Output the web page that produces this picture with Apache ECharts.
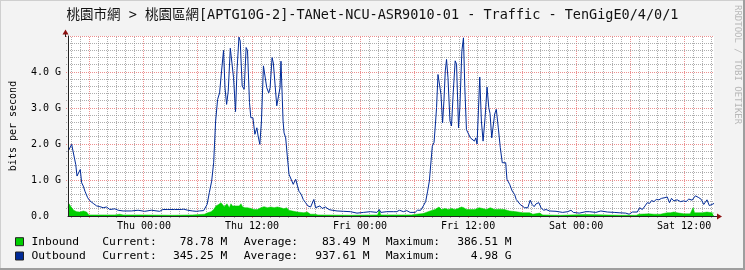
<!DOCTYPE html>
<html>
<head>
<meta charset="utf-8">
<script src="https://cdn.jsdelivr.net/npm/echarts@6/dist/echarts.min.js"></script>
<style>
html,body{margin:0;padding:0;background:#f3f3f3;}
#c{width:745px;height:270px;}
</style>
</head>
<body>
<div id="c"></div>
<script>
// ---------- data (hours relative to Thu 00:00, values in Gbit/s) ----------
const titleText = '桃園市網 > 桃園區網[APTG10G-2]-TANet-NCU-ASR9010-01 - Traffic - TenGigE0/4/0/1';
const yAxisTitle = 'bits per second';
const xRange = [-8.44, 63.32];
const yMax = 5.0;
const xTickHours = [0, 12, 24, 36, 48, 60];
const xTickLabels = ['Thu 00:00', 'Thu 12:00', 'Fri 00:00', 'Fri 12:00', 'Sat 00:00', 'Sat 12:00'];
const yTickLabels = ['0.0', '1.0 G', '2.0 G', '3.0 G', '4.0 G'];
const seriesNames = ['Inbound', 'Outbound'];
const statLabels = ['Current:', 'Average:', 'Maximum:'];
const inboundStats = ['78.78 M', '83.49 M', '386.51 M'];
const outboundStats = ['345.25 M', '937.61 M', '4.98 G'];

const outboundHours = [-8.44,-8.33,-8.03,-7.88,-7.58,-7.44,-7.22,-7.08,-6.92,-6.74,-6.56,-6.41,-6.26,-6.00,-5.64,-5.26,-4.90,-4.53,-4.16,-3.79,-3.24,-2.87,-2.32,-1.39,-0.66,0.08,0.82,1.74,2.10,2.65,3.39,4.13,4.42,4.86,5.42,5.79,6.16,6.63,7.01,7.26,7.52,7.74,7.96,8.18,8.40,8.62,8.84,9.00,9.18,9.36,9.59,9.73,9.95,10.17,10.33,10.55,10.69,10.91,11.13,11.35,11.50,11.72,11.87,12.10,12.32,12.54,12.68,12.87,13.05,13.27,13.42,13.64,13.86,14.01,14.23,14.37,14.53,14.75,14.89,15.11,15.22,15.45,15.56,15.74,15.92,16.11,16.30,16.58,16.85,17.03,17.21,17.47,17.69,17.95,18.21,18.51,18.68,18.87,19.06,19.24,19.54,19.79,20.17,20.53,20.90,21.45,22.19,22.93,23.66,24.40,25.14,25.87,26.14,26.31,26.98,27.72,28.08,28.38,28.82,29.19,29.56,30.12,30.37,30.74,31.03,31.29,31.51,31.70,31.89,32.03,32.22,32.36,32.50,32.66,32.80,32.99,33.17,33.32,33.47,33.61,33.77,33.99,34.16,34.35,34.57,34.72,34.94,35.09,35.31,35.49,35.64,35.82,36.04,36.26,36.48,36.71,36.86,37.00,37.15,37.30,37.48,37.67,37.89,38.11,38.30,38.44,38.63,38.77,38.96,39.14,39.36,39.58,39.80,40.02,40.18,40.32,40.62,40.91,41.17,41.35,41.57,41.79,42.01,42.28,42.64,42.90,43.12,43.34,43.56,43.86,44.11,44.38,44.67,45.04,45.77,46.51,47.07,47.43,47.70,48.36,49.09,49.46,50.19,50.75,51.49,52.23,52.78,53.51,53.89,54.25,54.80,55.06,55.36,55.66,55.91,56.17,56.39,56.65,56.91,57.20,57.49,57.87,58.12,58.38,58.60,58.86,59.23,59.59,59.97,60.22,60.52,60.89,61.25,61.63,61.91,62.18,62.54,62.80,63.10,63.32];
const outboundGbps = [1.79,1.79,1.99,1.80,1.43,1.11,1.11,1.29,0.92,0.83,0.69,0.74,0.51,0.42,0.35,0.28,0.26,0.23,0.25,0.18,0.20,0.16,0.14,0.14,0.16,0.13,0.16,0.13,0.18,0.18,0.18,0.18,0.19,0.16,0.14,0.13,0.14,0.15,0.32,0.65,0.97,1.48,2.64,3.24,3.42,4.03,4.60,3.56,3.10,3.47,4.66,4.66,3.84,2.90,4.03,4.97,4.86,3.61,3.52,4.68,4.60,3.15,2.73,2.73,2.27,2.45,2.22,1.99,2.64,4.17,4.20,3.56,3.42,3.56,4.40,4.25,3.75,3.06,3.06,3.56,4.30,2.64,2.31,2.17,1.67,1.16,1.12,0.88,1.02,0.97,0.69,0.60,0.46,0.37,0.28,0.25,0.28,0.46,0.23,0.18,0.28,0.21,0.25,0.18,0.16,0.14,0.13,0.12,0.08,0.10,0.12,0.10,0.18,0.10,0.12,0.12,0.12,0.16,0.12,0.15,0.10,0.10,0.16,0.16,0.28,0.40,0.69,0.97,1.53,1.94,2.04,2.50,3.01,3.93,3.93,3.38,2.59,3.19,4.03,4.35,3.84,2.64,2.50,3.42,4.31,4.22,2.45,3.01,4.58,4.95,3.56,2.40,2.36,2.17,2.13,2.08,2.17,2.00,2.92,3.86,2.64,2.08,2.73,3.58,3.01,2.85,2.17,2.17,2.84,2.96,2.45,1.90,1.48,1.48,1.48,1.02,0.88,0.69,0.60,0.46,0.51,0.32,0.32,0.23,0.23,0.44,0.32,0.26,0.34,0.37,0.23,0.16,0.18,0.14,0.13,0.10,0.12,0.16,0.10,0.08,0.12,0.12,0.10,0.14,0.11,0.10,0.09,0.08,0.05,0.11,0.11,0.23,0.18,0.28,0.37,0.35,0.43,0.40,0.46,0.45,0.49,0.51,0.53,0.37,0.49,0.42,0.45,0.40,0.42,0.40,0.47,0.44,0.56,0.51,0.46,0.32,0.45,0.29,0.32,0.35];

const inboundHours = [-8.44,-8.33,-8.18,-8.03,-7.81,-7.47,-7.11,-6.74,-6.56,-6.37,-6.12,-5.09,-3.24,-2.68,-2.50,-2.32,-0.14,3.17,5.39,6.71,7.08,7.45,7.74,8.00,8.29,8.56,8.73,8.92,9.22,9.48,9.66,9.84,10.11,10.33,10.58,10.77,10.95,11.21,11.50,11.87,12.24,12.60,12.98,13.34,13.71,14.09,14.45,14.82,15.19,15.56,15.85,16.08,16.30,17.03,17.77,18.13,18.32,18.51,19.06,19.31,23.07,25.95,26.14,26.31,28.60,29.71,30.29,31.03,31.78,32.33,32.77,33.06,33.43,33.80,34.16,34.54,34.90,35.27,35.53,35.82,36.26,36.75,37.23,37.59,38.03,38.47,38.96,39.51,40.02,40.62,41.35,42.09,42.83,43.20,43.94,44.30,46.29,49.06,49.28,52.93,54.69,54.99,56.10,56.28,56.65,57.35,58.12,58.49,58.86,59.23,59.97,60.67,61.00,61.16,61.63,62.00,62.54,63.10,63.32];
const inboundGbps = [0.23,0.34,0.31,0.23,0.16,0.12,0.11,0.14,0.17,0.11,0.03,0.03,0.03,0.05,0.09,0.03,0.03,0.02,0.03,0.05,0.09,0.12,0.18,0.28,0.32,0.37,0.32,0.26,0.34,0.23,0.34,0.28,0.28,0.31,0.28,0.34,0.26,0.23,0.23,0.21,0.18,0.18,0.23,0.26,0.23,0.25,0.23,0.25,0.23,0.20,0.23,0.16,0.12,0.11,0.09,0.11,0.14,0.05,0.05,0.03,0.02,0.03,0.16,0.03,0.03,0.03,0.05,0.07,0.14,0.18,0.25,0.18,0.21,0.18,0.21,0.18,0.21,0.25,0.23,0.18,0.18,0.18,0.23,0.21,0.18,0.23,0.18,0.19,0.18,0.14,0.12,0.09,0.09,0.05,0.08,0.03,0.02,0.04,0.02,0.02,0.02,0.05,0.06,0.08,0.05,0.05,0.09,0.09,0.11,0.09,0.06,0.06,0.23,0.09,0.09,0.09,0.11,0.09,0.08];

// ---------- build ----------
const MONO = '"DejaVu Sans Mono", "Noto Sans CJK TC", monospace';
const pair = (xs, ys) => xs.map((x, i) => [x, ys[i]]);

// grid line items: [x1, y1, x2, y2, isMajor]
const gridItems = [];
for (let h = Math.ceil(xRange[0]); h <= Math.floor(xRange[1]); h++) {
  gridItems.push([h, 0, h, yMax, h % 6 === 0 ? 1 : 0]);
}
for (let k = 1; k <= Math.round(yMax * 5); k++) {
  gridItems.push([xRange[0], k / 5, xRange[1], k / 5, k % 5 === 0 ? 1 : 0]);
}
const minorC = 'rgba(140,140,140,0.7)';
const majorC = 'rgba(225,70,70,0.6)';

const chart = echarts.init(document.getElementById('c'), null, {renderer: 'canvas'});

const statGraphics = [];
const statLeft = [102.3, 243.7, 385.7];
const valRight = [227.3, 369.6, 511.6];
[inboundStats, outboundStats].forEach((row, r) => {
  const y = r === 0 ? 241.7 : 256;
  row.forEach((val, i) => {
    statGraphics.push({type: 'text', x: statLeft[i], y: y, silent: true,
      style: {text: statLabels[i], font: '11.3px ' + MONO, fill: '#000', align: 'left', verticalAlign: 'middle', textAlign: 'left', textVerticalAlign: 'middle'}});
    statGraphics.push({type: 'text', x: valRight[i], y: y, silent: true,
      style: {text: val, font: '11.3px ' + MONO, fill: '#000', align: 'right', verticalAlign: 'middle', textAlign: 'right', textVerticalAlign: 'middle'}});
  });
});

const option = {
  animation: false,
  backgroundColor: '#f3f3f3',
  title: {
    text: titleText, left: 'center', top: 8, padding: 0,
    textStyle: {fontFamily: MONO, fontSize: 13.5, fontWeight: 'normal', color: '#111', lineHeight: 14}
  },
  legend: {
    orient: 'vertical', left: 15, top: 234.7, padding: 0, itemGap: 0.3,
    itemWidth: 8, itemHeight: 8, icon: 'rect', selectedMode: false,
    textStyle: {fontFamily: MONO, fontSize: 11.3, color: '#000', lineHeight: 14, padding: [0, 0, 0, 3]},
    data: [
      {name: seriesNames[0], itemStyle: {color: '#00CF00', borderColor: '#222', borderWidth: 1}},
      {name: seriesNames[1], itemStyle: {color: '#002A97', borderColor: '#222', borderWidth: 1}}
    ]
  },
  grid: {left: 65, right: 31, top: 36, bottom: 54, show: true, backgroundColor: '#ffffff', borderWidth: 0},
  xAxis: {
    type: 'value', min: xRange[0], max: xRange[1], z: 10,
    axisLine: {show: true, onZero: false, lineStyle: {color: '#222', width: 1}},
    axisTick: {show: false},
    splitLine: {show: false},
    axisLabel: {
      customValues: xTickHours, margin: 5,
      fontFamily: MONO, fontSize: 10, color: '#000',
      formatter: v => { const i = xTickHours.indexOf(v); return i >= 0 ? xTickLabels[i] : ''; }
    }
  },
  yAxis: {
    type: 'value', min: 0, max: yMax, interval: 1, z: 10,
    name: yAxisTitle, nameLocation: 'middle', nameGap: 50,
    nameTextStyle: {fontFamily: MONO, fontSize: 10, color: '#000'},
    axisLine: {show: true, onZero: false, lineStyle: {color: '#222', width: 1}},
    axisTick: {show: false},
    splitLine: {show: false},
    axisLabel: {
      align: 'left', margin: 37, fontFamily: MONO, fontSize: 10, color: '#000',
      formatter: v => { const i = Math.round(v); return yTickLabels[i] !== undefined ? yTickLabels[i] : ''; }
    }
  },
  series: [
    {
      type: 'custom', name: '_grid', data: gridItems, clip: false,
      encode: {x: [0, 2], y: [1, 3]},
      renderItem: (params, api) => {
        const p1 = api.coord([api.value(0), api.value(1)]);
        const p2 = api.coord([api.value(2), api.value(3)]);
        const vertical = api.value(0) === api.value(2);
        const color = api.value(4) ? majorC : minorC;
        if (vertical) {
          const x = Math.floor(p1[0]) + 0.5;
          return {type: 'line', shape: {x1: x, y1: p1[1] + 2, x2: x, y2: p2[1]},
            style: {stroke: color, lineWidth: 1, lineDash: [1, 1], fill: null}};
        }
        const y = Math.floor(p1[1]) + 0.5;
        return {type: 'line', shape: {x1: p1[0] - 2, y1: y, x2: p2[0], y2: y},
          style: {stroke: color, lineWidth: 1, lineDash: [1, 1], fill: null}};
      }
    },
    {
      type: 'line', name: seriesNames[0], data: pair(inboundHours, inboundGbps), z: 3,
      showSymbol: false, symbol: 'none', silent: true,
      itemStyle: {color: '#00CF00'},
      lineStyle: {width: 0.5, color: '#00CF00'},
      areaStyle: {color: '#00CF00', opacity: 1}
    },
    {
      type: 'line', name: seriesNames[1], data: pair(outboundHours, outboundGbps), z: 4,
      showSymbol: false, symbol: 'none', silent: true,
      itemStyle: {color: '#002A97'},
      lineStyle: {width: 1, color: '#002A97'}
    }
  ],
  graphic: [
    {type: 'rect', shape: {x: 0, y: 0, width: 745, height: 1}, style: {fill: '#cfcfcf'}, silent: true, z: 100},
    {type: 'rect', shape: {x: 0, y: 0, width: 1, height: 270}, style: {fill: '#cfcfcf'}, silent: true, z: 100},
    {type: 'rect', shape: {x: 743, y: 0, width: 2, height: 270}, style: {fill: '#9e9e9e'}, silent: true, z: 100},
    {type: 'rect', shape: {x: 0, y: 268, width: 745, height: 2}, style: {fill: '#9e9e9e'}, silent: true, z: 100},
    {type: 'rect', shape: {x: 65, y: 33, width: 1, height: 4}, style: {fill: '#222'}, silent: true, z: 100},
    {type: 'rect', shape: {x: 713, y: 216, width: 5, height: 1}, style: {fill: '#222'}, silent: true, z: 100},
    {type: 'polygon', shape: {points: [[65.5, 29.5], [62.5, 34.5], [68.5, 34.5]]}, style: {fill: '#8b1010'}, silent: true, z: 101},
    {type: 'polygon', shape: {points: [[722, 216.5], [717, 213.5], [717, 219.5]]}, style: {fill: '#8b1010'}, silent: true, z: 101},
    {type: 'text', x: 737, y: 5, rotation: -Math.PI / 2, silent: true, z: 100,
      style: {text: 'RRDTOOL / TOBI OETIKER', font: '9px ' + MONO, fill: '#b8b8b8', align: 'left', verticalAlign: 'middle', textAlign: 'left', textVerticalAlign: 'middle'}}
  ].concat(statGraphics)
};

chart.setOption(option);
</script>
</body>
</html>
